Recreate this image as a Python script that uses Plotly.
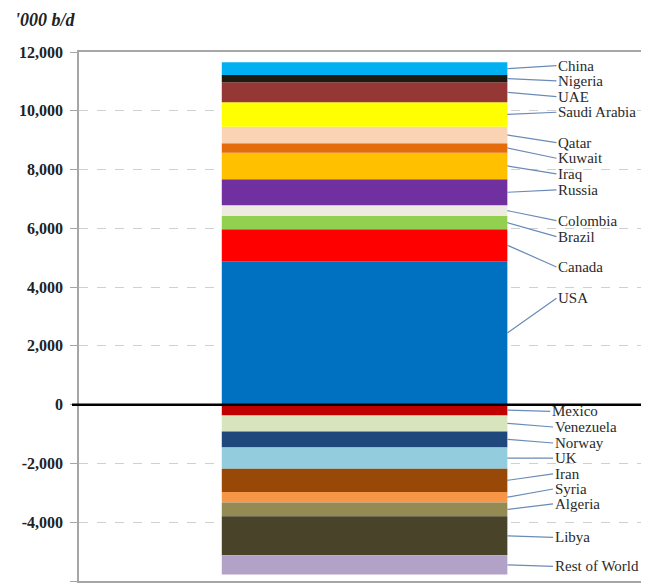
import plotly.graph_objects as go

# ---- data ('000 b/d) ----
countries = ["USA", "Canada", "Brazil", "Colombia", "Russia", "Iraq", "Kuwait",
             "Qatar", "Saudi Arabia", "UAE", "Nigeria", "China",
             "Mexico", "Venezuela", "Norway", "UK", "Iran", "Syria", "Algeria",
             "Libya", "Rest of World"]
values = [4880, 1090, 450, 365, 885, 905, 320, 565, 830, 680, 250, 430,
          -365, -545, -545, -725, -790, -355, -475, -1325, -655]
tick_values = [-6000, -4000, -2000, 0, 2000, 4000, 6000, 8000, 10000, 12000]
tick_labels = [f"{v:,}" for v in tick_values]

# ---- styles ----
colors = ["#0070C0", "#FF0000", "#92D050", "#EEECE1", "#7030A0", "#FFC000",
          "#E46C0A", "#FAD3B4", "#FFFF00", "#953735", "#1D1A0F", "#00B0F0",
          "#C00000", "#D7E4BD", "#1F497D", "#93CDDD", "#984807", "#F79646",
          "#948A54", "#494429", "#B3A2C7"]
# label nudges in pixels relative to segment centre (positive = down)
label_dy_px = [-34.7, 21.7, 14, 10, -2.3, 8, 10.3, 7.7, -2.2, 4.4, 2.3, -3,
               1.4, 3.6, 3.6, 0, -6.4, -8.2, -5.4, 1.5, 1.4]
label_dx = [0.672] * 12 + [0.65] + [0.66] * 8

# page has an 8px body margin, so the figure is 8px smaller than the window
W, H = 641, 577
margin = dict(l=71, r=0, t=44, b=4)
y_range = [-6000, 12000]
plot_w = W - margin["l"] - margin["r"]
px_per_unit = (H - margin["t"] - margin["b"]) / (y_range[1] - y_range[0])

fig = go.Figure()
for name, v, c in zip(countries, values, colors):
    fig.add_trace(go.Bar(x=[0], y=[v], name=name, width=1,
                         marker=dict(color=c, line=dict(width=0)),
                         showlegend=False))

# leader labels
pos_base, neg_base = 0, 0
serif = "Liberation Serif, Times New Roman, serif"
for name, v, dy, lx in zip(countries, values, label_dy_px, label_dx):
    if v >= 0:
        mid = pos_base + v / 2
        pos_base += v
    else:
        mid = neg_base + v / 2
        neg_base += v
    ly = mid - dy / px_per_unit
    fig.add_annotation(x=0.5, y=mid, xref="x", yref="y",
                       ax=lx, ay=ly, axref="x", ayref="y",
                       text=name, showarrow=True, arrowhead=0,
                       arrowwidth=1.2, arrowcolor="#6A8BB8", standoff=0,
                       xanchor="left", yanchor="middle",
                       font=dict(family=serif, size=15, color="#2A2A2A"))

# zero line on top of bars
fig.add_shape(type="line", xref="paper", yref="y", x0=-7 / plot_w, x1=1,
              y0=0, y1=0, line=dict(color="black", width=2.5), layer="above")

fig.add_annotation(xref="paper", yref="paper", x=(5 - margin["l"]) / plot_w,
                   y=1, xanchor="left", yanchor="middle", yshift=margin["t"] - 12,
                   text="<b><i>'000 b/d</i></b>", showarrow=False,
                   font=dict(family=serif, size=18, color="#222222"))

fig.update_layout(
    width=W, height=H, margin=margin, barmode="relative",
    plot_bgcolor="white", paper_bgcolor="white",
    xaxis=dict(range=[-1.0, 0.996], showticklabels=False, ticks="",
               showgrid=False, zeroline=False, showline=True, mirror=True,
               linecolor="#A6A6A6", linewidth=1.5),
    yaxis=dict(range=y_range, tickvals=tick_values, ticktext=tick_labels,
               ticks="outside", ticklen=7, tickcolor="#A6A6A6",
               ticklabelstandoff=4,
               showline=True, linecolor="#A6A6A6", linewidth=1.5,
               showgrid=True, gridcolor="#D0D0D0", griddash="dash",
               zeroline=False,
               tickfont=dict(family=serif, size=16, color="#222222",
                             weight="bold")),
)

fig.write_html("out.html")
